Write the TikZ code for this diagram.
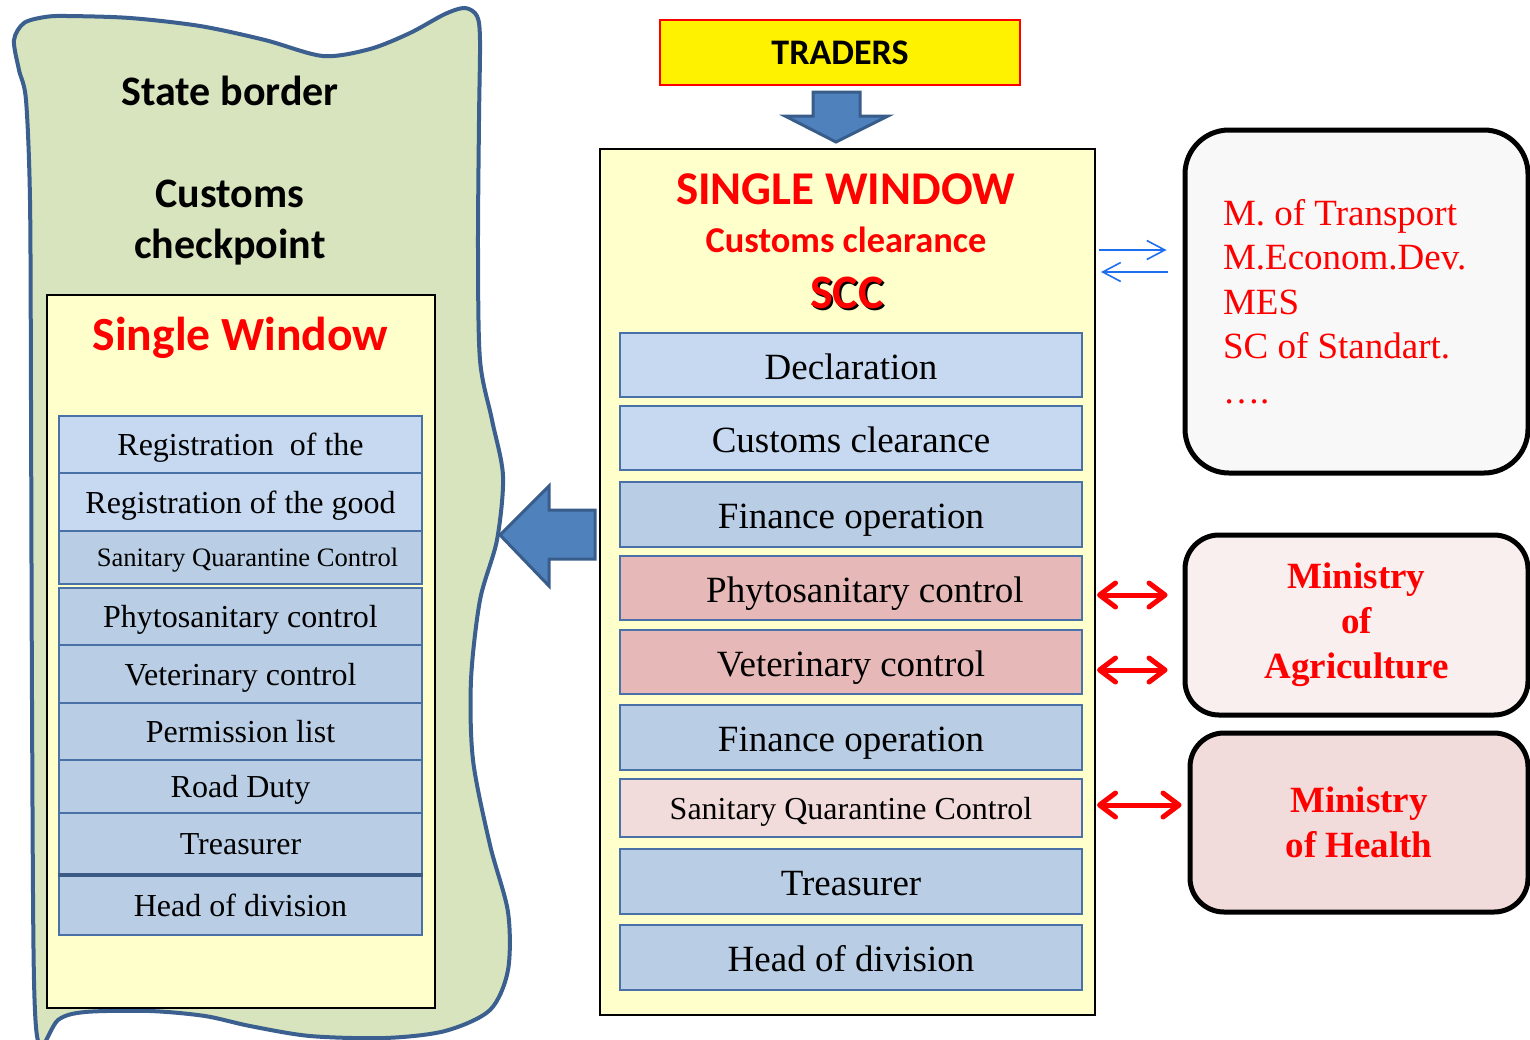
\documentclass[tikz,border=0pt]{standalone}
\usepackage{fontspec}
\setmainfont{Liberation Serif}
\newfontfamily\carlito{Carlito}
\usetikzlibrary{arrows.meta}

\definecolor{blobfill}{HTML}{D7E4BD}
\definecolor{blobline}{HTML}{3B5F8F}
\definecolor{paleyellow}{HTML}{FFFFCC}
\definecolor{rowlight}{HTML}{C6D9F1}
\definecolor{rowmid}{HTML}{B9CDE5}
\definecolor{rowline}{HTML}{4A70A8}
\definecolor{rowpink}{HTML}{E6B9B8}
\definecolor{rowpale}{HTML}{F2DCDB}
\definecolor{arrfill}{HTML}{4F81BD}
\definecolor{arrline}{HTML}{385D8A}
\definecolor{boxgrey}{HTML}{F8F8F8}
\definecolor{agrifill}{HTML}{F9EFEF}
\definecolor{healthfill}{HTML}{F2DCDB}
\definecolor{thinblue}{HTML}{1E6EF0}
\definecolor{redtext}{HTML}{FF0000}

\begin{document}
\begin{tikzpicture}[x=0.5pt,y=-0.5pt,
  rowR/.style={draw=rowline, line width=1pt, minimum width=231pt, minimum height=32pt,
    inner sep=0pt, font=\fontsize{18.5}{22}\selectfont, text height=14.2pt, text depth=0pt},
  rowRsmall/.style={rowR, font=\fontsize{16}{19}\selectfont, text height=11.6pt},
  rowL/.style={draw=rowline, line width=0.8pt, minimum width=181.5pt, inner sep=0pt,
    font=\fontsize{16}{19}\selectfont, text height=11pt, text depth=0pt},
  rowLsmall/.style={rowL, font=\fontsize{13.3}{16}\selectfont, text height=9.2pt},
  panel/.style={draw=black, line width=1pt, fill=paleyellow, inner sep=0pt},
  sanstitle/.style={font=\carlito\bfseries, inner sep=0pt, anchor=base},
  minibox/.style={draw=black, line width=2.5pt, rounded corners=17pt, inner sep=0pt,
    text=redtext, align=center, font=\fontsize{18.5}{22.5}\selectfont\bfseries},
  blockarrow/.style={fill=arrfill, draw=arrline, line width=1.5pt, line join=miter},
  thinarr/.style={draw=thinblue, line width=0.8pt, -{Straight Barb[length=9pt,width=9.5pt]}},
  redarr/.style={draw=redtext, line width=2.5pt,
    {Straight Barb[length=8pt,width=12pt,round]}-{Straight Barb[length=8pt,width=12pt,round]}}
]
\useasboundingbox (0,0) rectangle (1530,1039);

% ---------- left: state border blob ----------
\draw[fill=blobfill, draw=blobline, line width=2pt]
  plot[smooth cycle, tension=0.5] coordinates {
   (14,40) (24,23) (45,17) (67,16) (130,18) (200,26) (265,40) (323,56) (370,49)
   (410,33) (445,14) (465,8) (477,16) (480,40) (479,120) (478,250) (480,360)
   (492,420) (503,476) (497,540) (480,600) (471,680) (473,760) (490,845) (508,912)
   (508,970) (490,1010) (445,1031) (385,1038) (310,1036) (250,1026) (205,1016)
   (150,1011) (85,1012) (58,1020) (40,1046) (34,980) (32,700) (31,400) (30,200)
   (26,100) (19,70)};

\node[sanstitle, font=\carlito\bfseries\fontsize{21}{25}\selectfont] (stateb) at (230,105) {State border};
\node[sanstitle, font=\carlito\bfseries\fontsize{21}{25}\selectfont] (cust1) at (230,207) {Customs};
\node[sanstitle, font=\carlito\bfseries\fontsize{21}{25}\selectfont] (cust2) at (230,258) {checkpoint};

\node[panel, minimum width=194pt, minimum height=356.5pt] (lpanel) at (241,651.5) {};
\node[sanstitle, text=redtext, font=\carlito\bfseries\fontsize{23.8}{28}\selectfont] (lsw) at (240.5,350) {Single Window};

\node[rowL, fill=rowlight, minimum height=28.5pt] (l1) at (240.5,444.5) {Registration\ \ of the};
\node[rowL, fill=rowlight, minimum height=29pt] (l2) at (240.5,502) {Registration of the good};
\node[rowLsmall, fill=rowmid, minimum height=26.5pt] (l3) at (240.5,557.5) {\hspace*{7pt}Sanitary Quarantine Control};
\node[rowL, fill=rowmid, minimum height=28.5pt] (l4) at (240.5,616.5) {Phytosanitary control};
\node[rowL, fill=rowmid, minimum height=29pt] (l5) at (240.5,674) {Veterinary control};
\node[rowL, fill=rowmid, minimum height=28.5pt] (l6) at (240.5,731.5) {Permission list};
\node[rowL, fill=rowmid, minimum height=26.5pt] (l7) at (240.5,786.5) {Road Duty};
\node[rowL, fill=rowmid, minimum height=30.5pt] (l8) at (240.5,843.5) {Treasurer};
\node[rowL, fill=rowmid, minimum height=30pt] (l9) at (240.5,905) {Head of division};
\draw[rowline!80!black, line width=2pt] (l8.south west) -- (l8.south east);

% ---------- center: traders and single window ----------
\node[draw=red, line width=1pt, fill=yellow, minimum width=180pt, minimum height=32.5pt,
  inner sep=0pt, font=\carlito\bfseries\fontsize{18}{21}\selectfont, text height=11.8pt, text depth=0pt]
  (traders) at (840,52.5) {TRADERS};

\draw[blockarrow] (813,92) -- (860,92) -- (860,116) -- (888,116) -- (836,142) -- (785,116) -- (813,116) -- cycle;

\node[panel, minimum width=247.5pt, minimum height=433pt] (sw) at (847.5,582) {};
\node[sanstitle, text=redtext, font=\carlito\bfseries\fontsize{23.5}{28}\selectfont] (swt) at (845.5,204) {SINGLE WINDOW};
\node[sanstitle, text=redtext, font=\carlito\bfseries\fontsize{18.2}{22}\selectfont] (swc) at (846,252) {Customs clearance};
\node[sanstitle, text=black, font=\carlito\bfseries\fontsize{24}{28}\selectfont] (sccshadow) at (849,310) {SCC};
\node[sanstitle, text=redtext, font=\carlito\bfseries\fontsize{24}{28}\selectfont] (scc) at (847,308) {SCC};

\node[rowR, fill=rowlight] (r1) at (851,365) {Declaration};
\node[rowR, fill=rowlight] (r2) at (851,438) {Customs clearance};
\node[rowR, fill=rowmid, minimum height=32.5pt] (r3) at (851,514.5) {Finance operation};
\node[rowR, fill=rowpink] (r4) at (851,588) {\hspace*{14pt}Phytosanitary control};
\node[rowR, fill=rowpink] (r5) at (851,662) {Veterinary control};
\node[rowR, fill=rowmid, minimum height=32.5pt] (r6) at (851,737.5) {Finance operation};
\node[rowRsmall, fill=rowpale, minimum height=29pt] (r7) at (851,808) {Sanitary Quarantine Control};
\node[rowR, fill=rowmid, minimum height=32.5pt] (r8) at (851,881.5) {Treasurer};
\node[rowR, fill=rowmid, minimum height=32.5pt] (r9) at (851,957.5) {Head of division};

\draw[blockarrow] (595,510) -- (595,559) -- (549,559) -- (549,586) -- (500,535) -- (549,486) -- (549,510) -- cycle;

% ---------- right: ministries ----------
\node[draw=black, line width=2.5pt, rounded corners=22pt, fill=boxgrey, inner sep=0pt,
  minimum width=171.5pt, minimum height=171.5pt, text width=133.5pt, align=flush left,
  text=redtext, font=\fontsize{18.5}{22.25}\selectfont]
  (tbox) at (1356.5,301.5) {M. of Transport\\M.Econom.Dev.\\MES\\SC of Standart.\\….};

\node[minibox, fill=agrifill, minimum width=171.5pt, minimum height=90pt] (agri) at (1356.5,625) {Ministry\\of\\Agriculture};
\node[minibox, fill=healthfill, minimum width=169pt, minimum height=89.5pt] (health) at (1359,822.5) {Ministry\\of Health};

% ---------- connectors ----------
\coordinate (b1) at (0,250);
\coordinate (b2) at (0,272);
\draw[thinarr, shorten <=1.5pt, shorten >=8pt] (sw.east |- b1) -- (tbox.west |- b1);
\draw[thinarr, shorten <=7.5pt, shorten >=2.5pt] (tbox.west |- b2) -- (sw.east |- b2);

\coordinate (pa) at ([yshift=-3.5pt]r4.east);
\coordinate (va) at ([yshift=-4pt]r5.east);
\coordinate (sa) at ([yshift=1.5pt]r7.east);
\draw[redarr, shorten <=7pt, shorten >=7.5pt] (pa) -- (pa -| agri.west);
\draw[redarr, shorten <=7pt, shorten >=7.5pt] (va) -- (va -| agri.west);
\draw[redarr, shorten <=7pt, shorten >=3pt] (sa) -- (sa -| health.west);
\end{tikzpicture}
\end{document}
